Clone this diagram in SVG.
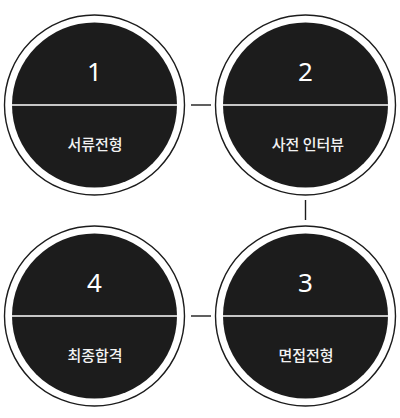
<svg xmlns="http://www.w3.org/2000/svg" width="400" height="418" viewBox="0 0 400 418">
<style>
.ring{fill:#fff;stroke:#1c1c1c;stroke-width:1.4}
.disc{fill:#1c1c1c}
.div{stroke:#fff;stroke-width:1.5}
.num{font-family:"Noto Sans","Noto Sans CJK KR",sans-serif;font-size:26px;fill:#fff;text-anchor:middle}
.lbl{font-family:"Noto Sans CJK KR","Noto Sans",sans-serif;font-size:15px;font-weight:500;fill:#f2f2f2;text-anchor:middle}
.con{stroke:#1c1c1c;stroke-width:1.4}
</style>
<rect width="400" height="418" fill="#fff"/>
<g id="connectors">
<line class="con" x1="191" y1="105" x2="211" y2="105"/>
<line class="con" x1="305.5" y1="200" x2="305.5" y2="220"/>
<line class="con" x1="191" y1="316" x2="211" y2="316"/>
</g>
<g id="node1">
<circle class="ring" cx="94.5" cy="105" r="90"/>
<circle class="disc" cx="94.5" cy="105" r="82.5"/>
<line class="div" x1="12" y1="105" x2="177" y2="105"/>
<text class="num" x="94.5" y="81">1</text>
<text class="lbl" x="95" y="150">서류전형</text>
</g>
<g id="node2">
<circle class="ring" cx="305.5" cy="105" r="90"/>
<circle class="disc" cx="305.5" cy="105" r="82.5"/>
<line class="div" x1="223" y1="105" x2="388" y2="105"/>
<text class="num" x="305.5" y="81">2</text>
<text class="lbl" x="308" y="150">사전 인터뷰</text>
</g>
<g id="node3">
<circle class="ring" cx="305.5" cy="316" r="90"/>
<circle class="disc" cx="305.5" cy="316" r="82.5"/>
<line class="div" x1="223" y1="316" x2="388" y2="316"/>
<text class="num" x="305.5" y="292">3</text>
<text class="lbl" x="306" y="361">면접전형</text>
</g>
<g id="node4">
<circle class="ring" cx="94.5" cy="316" r="90"/>
<circle class="disc" cx="94.5" cy="316" r="82.5"/>
<line class="div" x1="12" y1="316" x2="177" y2="316"/>
<text class="num" x="94.5" y="292">4</text>
<text class="lbl" x="95" y="361">최종합격</text>
</g>
</svg>
